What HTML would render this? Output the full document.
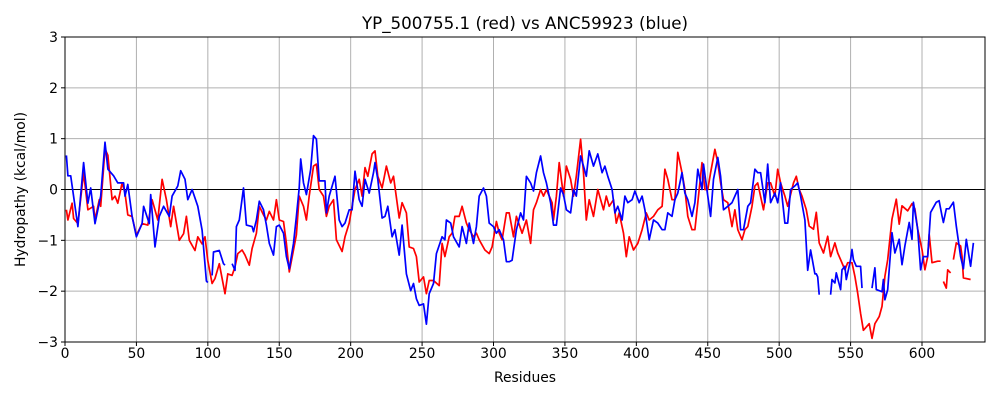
<!DOCTYPE html>
<html><head><meta charset="utf-8"><style>
body{margin:0;background:#fff;font-family:"DejaVu Sans","Liberation Sans",sans-serif}
svg{display:block}
</style></head><body>
<svg id="chart" width="1000" height="400" font-family="DejaVu Sans, Liberation Sans, sans-serif">
<rect width="1000" height="400" fill="#fff"/>
<text x="525" y="29" font-size="16.7" text-anchor="middle">YP_500755.1 (red) vs ANC59923 (blue)</text>
<text x="525" y="382" font-size="13.9" text-anchor="middle">Residues</text>
<text transform="translate(25,189.5) rotate(-90)" font-size="13.9" text-anchor="middle">Hydropathy (kcal/mol)</text>
<g id="grid"></g><g id="series"></g><g id="axes"></g>
</svg>
<script>
const xTicks=[0,50,100,150,200,250,300,350,400,450,500,550,600];
const yTicks=[-3,-2,-1,0,1,2,3];
const blueRes=[1,2,4,7,9,13,16,18,21,25,28,30,34,37,41,42,44,47,50,54,55,59,60,63,66,69,73,75,79,81,84,86,89,93,96,99,100,102,103,104,108,111,112,114,117,119,120,122,125,127,131,132,134,136,139,141,143,146,148,150,153,155,157,160,162,164,165,167,169,172,174,176,178,182,183,185,189,192,194,196,199,201,203,206,208,210,213,216,217,219,222,224,226,229,231,234,236,239,242,244,246,248,251,253,255,258,260,264,266,267,270,272,276,278,281,283,286,288,290,293,295,297,300,302,304,307,309,311,313,316,319,321,323,326,328,330,333,335,337,340,342,344,347,349,351,354,356,358,361,363,365,367,370,373,376,378,380,383,385,387,390,392,394,397,399,402,404,406,409,412,415,418,420,422,425,427,429,432,434,436,439,441,443,446,447,450,452,454,457,459,461,464,467,471,473,475,478,480,483,485,487,490,492,494,497,499,501,504,506,508,511,513,515,518,520,522,525,526,527,528,531,536,537,539,540,543,544,546,547,550,551,552,554,557,558,561,565,567,568,572,573,574,576,579,581,584,586,588,591,593,594,597,599,601,604,606,610,612,614,615,617,619,622,624,627,629,631,634,636];
const blueVal=[0.67,0.27,0.27,-0.33,-0.73,0.53,-0.27,0.03,-0.67,-0.13,0.93,0.4,0.27,0.13,0.13,-0.13,0.1,-0.53,-0.93,-0.67,-0.33,-0.67,-0.1,-1.13,-0.53,-0.33,-0.53,-0.13,0.07,0.37,0.2,-0.2,0,-0.33,-0.8,-1.8,-1.83,null,-1.69,-1.23,-1.2,-1.46,-1.49,null,-1.46,-1.59,-0.73,-0.6,0.03,-0.7,-0.73,-0.83,-0.6,-0.23,-0.4,-0.7,-1.06,-1.29,-0.73,-0.7,-0.86,-1.32,-1.56,-1.06,-0.53,0.03,0.6,0.13,-0.1,0.4,1.06,0.99,0.17,0.17,-0.46,-0.13,0.26,-0.6,-0.73,-0.66,-0.4,-0.4,0.36,-0.2,-0.33,0.2,-0.07,0.33,0.53,0.2,-0.56,-0.53,-0.33,-0.93,-0.79,-1.29,-0.7,-1.66,-1.99,-1.85,-2.15,-2.28,-2.25,-2.65,-2.05,-1.85,-1.26,-0.93,-0.99,-0.6,-0.66,-0.93,-1.13,-0.73,-1.06,-0.66,-1.06,-0.73,-0.13,0.03,-0.13,-0.66,-0.73,-0.86,-0.79,-0.99,-1.42,-1.42,-1.39,-0.79,-0.46,-0.6,0.26,0.13,-0.03,0.33,0.66,0.33,0.13,-0.26,-0.7,-0.7,0.03,-0.1,-0.4,-0.46,0,-0.13,0.66,0.46,0.26,0.76,0.46,0.7,0.33,0.46,0.26,0,-0.46,-0.33,-0.6,-0.13,-0.26,-0.2,-0.03,-0.26,-0.13,-0.4,-0.99,-0.6,-0.66,-0.79,-0.79,-0.46,-0.53,-0.2,-0.07,0.33,-0.07,-0.2,-0.53,-0.26,0.4,0,0.5,-0.13,-0.53,0.2,0.63,0.26,-0.4,-0.33,-0.26,0,-0.79,-0.79,-0.33,-0.26,0.4,0.33,0.33,-0.26,0.5,-0.26,-0.07,-0.26,0.13,-0.66,-0.66,0,0.07,0.13,-0.13,-0.6,-1.59,-1.19,-1.66,-1.66,-1.72,-2.07,null,-2.07,-1.77,-1.84,-1.64,-1.97,-1.58,-1.51,-1.77,-1.38,-1.18,-1.38,-1.51,-1.51,-1.94,null,-1.94,-1.54,-1.97,-2.01,-1.77,-2.17,-1.97,-0.85,-1.25,-0.98,-1.48,-1.11,-0.65,-0.98,-0.25,-0.78,-1.58,-1.32,-1.32,-0.45,-0.25,-0.22,-0.52,-0.65,-0.38,-0.38,-0.25,-0.72,-1.32,-1.56,-0.98,-1.51,-1.05];
const redRes=[1,2,5,6,9,13,16,20,21,24,25,28,30,33,35,37,40,42,44,47,50,54,58,61,65,68,71,74,76,80,83,85,87,91,93,96,98,100,103,105,108,112,114,117,119,121,124,126,129,131,134,136,139,141,143,146,148,150,153,155,157,160,162,164,167,169,171,174,176,178,181,183,185,188,190,194,196,199,201,203,206,208,210,212,215,217,219,222,225,228,230,234,236,239,241,244,246,248,251,253,255,258,262,264,266,269,271,273,276,278,281,283,286,288,290,294,297,299,302,304,306,309,311,314,316,320,323,326,328,330,333,335,337,341,342,344,346,349,351,354,356,358,361,363,365,367,370,373,377,379,381,384,386,388,391,393,395,398,401,404,407,409,412,415,418,420,422,425,427,429,432,434,436,439,441,443,446,448,450,452,455,457,459,461,464,467,469,471,474,476,478,481,483,485,489,492,494,497,499,501,504,506,510,512,514,516,519,521,524,526,528,531,534,536,539,541,543,546,548,551,553,555,557,559,563,565,567,570,572,574,576,579,582,584,586,590,593,595,597,600,602,604,605,607,611,613,614,615,617,618,620,621,622,624,627,628,629,634];
const redVal=[-0.4,-0.6,-0.27,-0.57,-0.67,0.33,-0.4,-0.33,-0.6,-0.2,-0.33,0.8,0.67,-0.2,-0.13,-0.27,0.13,-0.07,-0.5,-0.53,-0.9,-0.67,-0.7,-0.2,-0.6,0.2,-0.2,-0.73,-0.33,-1.0,-0.87,-0.53,-1.0,-1.2,-0.93,-1.07,-0.93,-1.4,-1.85,-1.75,-1.46,-2.05,-1.66,-1.69,-1.52,-1.26,-1.19,-1.29,-1.49,-1.16,-0.86,-0.33,-0.5,-0.6,-0.43,-0.6,-0.2,-0.6,-0.63,-1.06,-1.62,-1.19,-0.89,-0.13,-0.33,-0.6,-0.13,0.46,0.5,0,-0.13,-0.53,-0.33,-0.2,-0.99,-1.22,-0.93,-0.66,-0.33,0,0.2,-0.13,0.43,0.26,0.7,0.76,0.26,0.03,0.46,0.13,0.26,-0.56,-0.26,-0.46,-1.13,-1.16,-1.32,-1.82,-1.72,-2.05,-1.79,-1.79,-1.89,-1.06,-1.32,-0.93,-0.86,-0.53,-0.53,-0.33,-0.66,-0.79,-0.93,-0.86,-0.99,-1.19,-1.26,-1.13,-0.63,-0.86,-0.99,-0.46,-0.46,-0.93,-0.53,-0.86,-0.6,-1.06,-0.4,-0.26,0,-0.13,0,-0.26,-0.6,-0.13,0.53,-0.13,0.46,0.2,-0.13,0.26,0.99,0.33,-0.6,-0.2,-0.53,0,-0.4,-0.13,-0.33,-0.2,-0.66,-0.46,-0.86,-1.32,-0.93,-1.19,-1.06,-0.79,-0.46,-0.6,-0.53,-0.4,-0.33,0.4,0.2,-0.2,-0.2,0.73,0.33,0,-0.53,-0.79,-0.79,-0.26,0.53,0,0,0.33,0.79,0.53,0.13,-0.2,-0.26,-0.73,-0.4,-0.79,-0.99,-0.79,-0.73,-0.33,0.07,0.13,-0.4,0.13,0.13,-0.13,0.4,0.13,-0.13,-0.33,0.13,0.26,0,-0.13,-0.4,-0.72,-0.78,-0.45,-1.05,-1.25,-0.92,-1.32,-1.05,-1.25,-1.38,-1.58,-1.44,-1.44,-1.71,-2.04,-2.44,-2.77,-2.64,-2.93,-2.64,-2.5,-2.3,-1.71,-1.38,-0.58,-0.19,-0.68,-0.32,-0.42,-0.28,-0.38,-0.78,-1.18,-1.58,-1.32,-0.88,-1.44,-1.41,-1.41,null,-1.81,-1.94,-1.58,-1.64,null,-1.38,-1.05,-1.11,-1.31,-1.74,-1.77];

const L=65,R=985,T=37,B=342,XMAX=644.1,YMIN=-3,YMAX=3;
const xs=v=>L+(v/XMAX)*(R-L);
const ys=v=>B-(v-YMIN)/(YMAX-YMIN)*(B-T);
const NS='http://www.w3.org/2000/svg';
function mk(tag,attrs,parent){const e=document.createElementNS(NS,tag);for(const k in attrs)e.setAttribute(k,attrs[k]);parent.appendChild(e);return e;}
const grid=document.getElementById('grid'),axes=document.getElementById('axes'),ser=document.getElementById('series');
xTicks.forEach(t=>{
  const x=xs(t);
  const g=mk('line',{x1:x,x2:x,y1:T,y2:B,stroke:'#b0b0b0','stroke-width':1},grid);
  
  
  mk('line',{x1:x,x2:x,y1:B,y2:B+4,stroke:'#000','stroke-width':1},axes);
  const lb=mk('text',{x:x,y:B+16,'font-size':13.9,'text-anchor':'middle'},axes);
  lb.textContent=t;
  
  
});
yTicks.forEach(t=>{
  const y=ys(t);
  const g=mk('line',{x1:L,x2:R,y1:y,y2:y,stroke:'#b0b0b0','stroke-width':1},grid);
  
  
  mk('line',{x1:L-4,x2:L,y1:y,y2:y,stroke:'#000','stroke-width':1},axes);
  const lb=mk('text',{x:L-7,y:y+5,'font-size':13.9,'text-anchor':'end'},axes);
  lb.textContent=(t<0?'\u2212'+(-t):t);
  
  
});
const zl=mk('line',{x1:L,x2:R,y1:ys(0),y2:ys(0),stroke:'#000','stroke-width':0.9},grid);


function path(res,val){let d='',pen=false;res.forEach((r,i)=>{const v=val[i];if(v===null){pen=false;return;}d+=(pen?'L':'M')+xs(r).toFixed(1)+' '+ys(v).toFixed(1);pen=true;});return d;}
const pr=mk('path',{d:path(redRes,redVal),fill:'none',stroke:'#ff0000','stroke-width':1.7,'stroke-linejoin':'round'},ser);


const pb=mk('path',{d:path(blueRes,blueVal),fill:'none',stroke:'#0000ff','stroke-width':1.7,'stroke-linejoin':'round'},ser);


const fr=mk('rect',{x:L,y:T,width:R-L,height:B-T,fill:'none',stroke:'#000','stroke-width':1},axes);


</script>
</body></html>
